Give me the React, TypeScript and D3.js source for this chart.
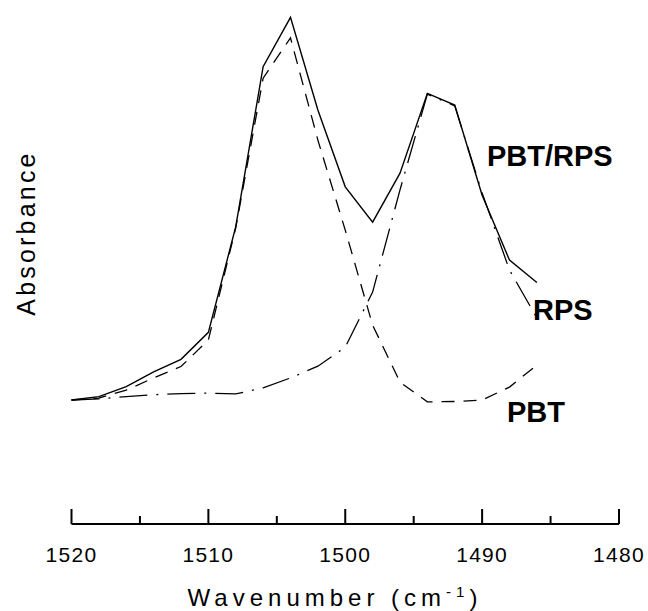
import React from "react";
import * as d3 from "d3";

const wavenumbers = [1520, 1518, 1516, 1514, 1512, 1510, 1508, 1506, 1504, 1502, 1500, 1498, 1496, 1494, 1492, 1490, 1488, 1486];
const blendAbs = [0, 0.009, 0.035, 0.074, 0.107, 0.178, 0.456, 0.877, 1.007, 0.763, 0.561, 0.468, 0.597, 0.807, 0.776, 0.539, 0.368, 0.309];
const pbtAbs = [0, 0.005, 0.026, 0.058, 0.088, 0.158, 0.453, 0.847, 0.953, 0.684, 0.447, 0.197, 0.047, -0.005, -0.004, 0, 0.034, 0.092];
const rpsAbs = [0, 0.003, 0.009, 0.014, 0.017, 0.018, 0.016, 0.032, 0.058, 0.089, 0.139, 0.284, 0.553, 0.805, 0.774, 0.545, 0.342, 0.216];
const majorTicks = [1520, 1510, 1500, 1490, 1480];
const minorTicks = [1515, 1505, 1495, 1485];
const seriesLabels = ["PBT/RPS", "RPS", "PBT"];

const W = 648;
const H = 611;
const FONT = "'Liberation Sans', Arial, Helvetica, sans-serif";

export default function App() {
  const x = d3.scaleLinear().domain([1520, 1480]).range([71.5, 619]);
  const y = d3.scaleLinear().domain([0, 1]).range([400, 20]);
  const axisY = 524;

  const mk = (vals: number[]) =>
    d3
      .line<number>()
      .x((_, i) => x(wavenumbers[i]))
      .y((v) => y(v))(vals) as string;

  return (
    <svg
      width={W}
      height={H}
      style={{ position: "absolute", left: 0, top: 0, background: "#fff" }}
      fontFamily={FONT}
    >
      <rect x={0} y={0} width={W} height={H} fill="#fff" />
      <path d={mk(blendAbs)} fill="none" stroke="#000" strokeWidth={1.4} />
      <path d={mk(pbtAbs)} fill="none" stroke="#000" strokeWidth={1.3} strokeDasharray="13,9" />
      <path d={mk(rpsAbs)} fill="none" stroke="#000" strokeWidth={1.3} strokeDasharray="28,9,2,9" />

      {/* series labels */}
      <text x={487} y={166} fontSize={29} fontWeight="bold">{seriesLabels[0]}</text>
      <text x={533} y={320} fontSize={29} fontWeight="bold">{seriesLabels[1]}</text>
      <text x={507} y={421.5} fontSize={29} fontWeight="bold">{seriesLabels[2]}</text>

      {/* x axis */}
      <line x1={x(1520)} x2={x(1480)} y1={axisY} y2={axisY} stroke="#000" strokeWidth={2} />
      {majorTicks.map((t) => (
        <line key={"M" + t} x1={x(t)} x2={x(t)} y1={axisY} y2={axisY - 15} stroke="#000" strokeWidth={2} />
      ))}
      {minorTicks.map((t) => (
        <line key={"m" + t} x1={x(t)} x2={x(t)} y1={axisY} y2={axisY - 8} stroke="#000" strokeWidth={2} />
      ))}
      {majorTicks.map((t) => (
        <text key={"l" + t} x={x(t)} y={561.5} fontSize={21} textAnchor="middle" letterSpacing={1.3}>
          {t}
        </text>
      ))}
      <text x={335} y={606} fontSize={24} textAnchor="middle" letterSpacing={5}>
        Wavenumber (cm<tspan fontSize={15} dy={-9}>-1</tspan><tspan dy={9}>)</tspan>
      </text>
      <text
        transform={`translate(35, 233) rotate(-90)`}
        fontSize={25}
        textAnchor="middle"
        letterSpacing={3.2}
      >
        Absorbance
      </text>
    </svg>
  );
}
